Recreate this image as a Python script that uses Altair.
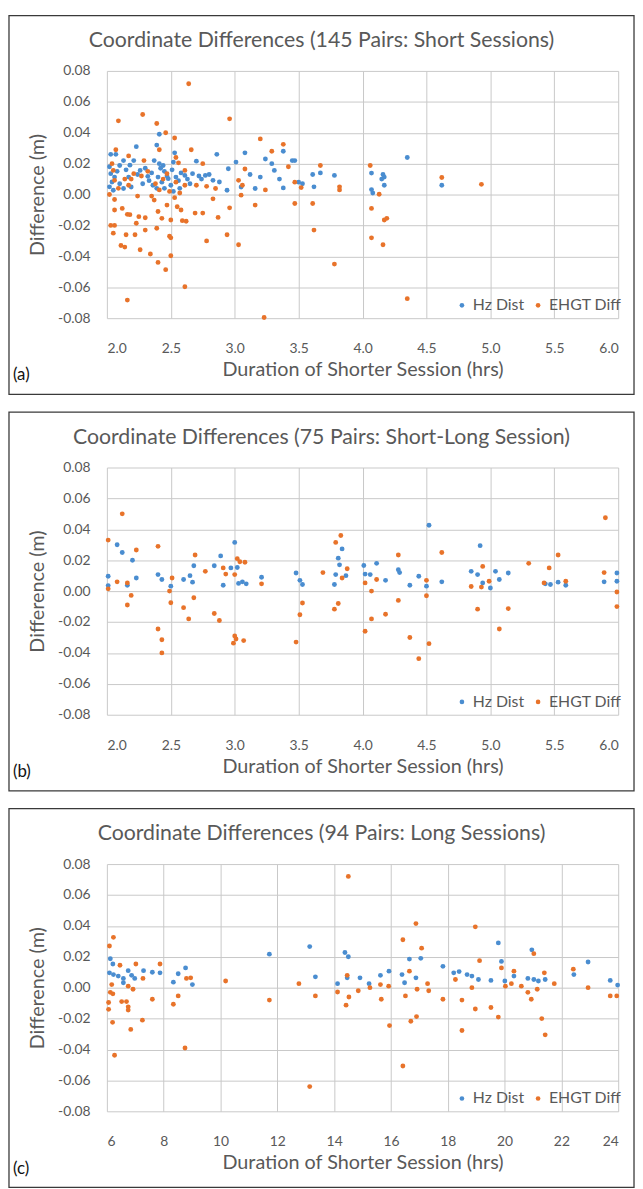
import altair as alt
import pandas as pd

FONT = "Lato"
TEXT_COLOR = "#595959"
SERIES = ["Hz Dist", "EHGT Diff"]
COLORS = ["#4a8dd0", "#e8732a"]

TITLES = [
    "Coordinate Differences (145 Pairs: Short Sessions)",
    "Coordinate Differences (75 Pairs: Short-Long Session)",
    "Coordinate Differences (94 Pairs: Long Sessions)",
]
PANEL_LABELS = ["(a)", "(b)", "(c)"]
X_TITLE = "Duration of Shorter Session (hrs)"
Y_TITLE = "Difference (m)"

X_DOMAINS = [[2.0, 6.0], [2.0, 6.0], [6, 24]]
X_TICKS = [
    [2.0, 2.5, 3.0, 3.5, 4.0, 4.5, 5.0, 5.5, 6.0],
    [2.0, 2.5, 3.0, 3.5, 4.0, 4.5, 5.0, 5.5, 6.0],
    [6, 8, 10, 12, 14, 16, 18, 20, 22, 24],
]
X_FORMATS = [".1f", ".1f", "d"]
Y_TICKS = [-0.08, -0.06, -0.04, -0.02, 0.0, 0.02, 0.04, 0.06, 0.08]

# ---------------- Panel (a): short sessions ----------------
A_HZ = [
    (2.03, 0.026), (2.07, 0.026), (2.23, 0.031), (2.39, 0.032), (2.41, 0.039),
    (2.53, 0.027), (2.86, 0.026), (3.08, 0.027), (3.24, 0.023), (3.38, 0.028),
    (2.13, 0.022), (2.21, 0.022), (2.41, 0.020), (2.52, 0.021), (2.70, 0.0216),
    (3.01, 0.021), (3.29, 0.020), (3.45, 0.022), (2.10, 0.0188), (2.26, 0.0156),
    (2.44, 0.0188), (2.67, 0.0135), (2.77, 0.0124), (2.95, 0.0167), (3.20, 0.0113),
    (3.31, 0.0156), (2.03, 0.0135), (2.06, 0.0113), (2.17, 0.0113), (2.32, 0.0118),
    (2.40, 0.0113), (2.48, 0.0103), (2.54, 0.0113), (2.61, 0.0124), (2.83, 0.0092),
    (2.88, 0.0081), (2.04, 0.0081), (2.10, 0.007), (2.28, 0.007), (2.43, 0.008),
    (2.50, 0.006), (2.94, 0.0028), (3.05, 0.0049), (3.16, 0.0039), (3.38, 0.0043),
    (2.05, 0.0028), (2.13, 0.0039), (2.19, 0.0049), (2.36, 0.006), (2.39, 0.004),
    (2.02, 0.018), (2.08, 0.015), (2.15, 0.016), (2.18, 0.019), (2.24, 0.013),
    (2.30, 0.017), (2.35, 0.014), (2.45, 0.015), (2.47, 0.012), (2.51, 0.016),
    (2.56, 0.009), (2.58, 0.014), (2.63, 0.010), (2.72, 0.012), (2.74, 0.010),
    (2.80, 0.013), (2.02, 0.005), (2.45, 0.004), (2.52, 0.002), (2.57, 0.004),
    (2.65, 0.007), (2.33, 0.009), (2.37, 0.022), (2.42, 0.017), (3.12, 0.013),
    (3.35, 0.010), (3.47, 0.022), (3.61, 0.013), (3.67, 0.014), (3.78, 0.0124),
    (3.62, 0.005), (3.50, 0.008), (3.53, 0.007), (4.07, 0.0139), (4.07, 0.0032),
    (4.08, 0.001), (4.16, 0.013), (4.17, 0.0113), (4.15, 0.010), (4.17, 0.006),
    (4.35, 0.024), (4.62, 0.006),
]
A_EH = [
    (2.64, 0.0717), (2.09, 0.0477), (2.28, 0.0518), (2.39, 0.046), (2.46, 0.040),
    (2.53, 0.0366), (2.96, 0.049), (3.20, 0.036), (3.38, 0.0325), (2.66, 0.029),
    (3.29, 0.028), (2.07, 0.029), (2.17, 0.025), (2.29, 0.022), (2.41, 0.029),
    (2.54, 0.024), (2.56, 0.0205), (2.75, 0.020), (2.04, 0.020), (2.05, 0.0156),
    (2.21, 0.0135), (2.32, 0.015), (2.47, 0.0135), (2.61, 0.0156), (3.08, 0.0165),
    (3.42, 0.018), (2.06, 0.0092), (2.14, 0.010), (2.17, 0.006), (2.38, 0.007),
    (2.41, 0.003), (2.54, 0.008), (2.61, 0.006), (2.70, 0.006), (2.78, 0.0053),
    (2.85, 0.0039), (3.03, 0.0092), (3.06, 0.006), (3.24, 0.003), (2.06, -0.0032),
    (2.24, -0.001), (2.35, -0.001), (2.37, -0.0036), (2.53, -0.002), (2.83, -0.0028),
    (2.96, -0.0086), (3.05, -0.0004), (3.16, -0.0068), (3.47, -0.0058), (2.06, -0.010),
    (2.12, -0.009), (2.16, -0.0128), (2.18, -0.013), (2.25, -0.0143), (2.30, -0.015),
    (2.40, -0.011), (2.43, -0.0154), (2.47, -0.0068), (2.55, -0.0079), (2.58, -0.010),
    (2.50, -0.0165), (2.59, -0.0169), (2.62, -0.0173), (2.69, -0.012), (2.75, -0.012),
    (2.87, -0.0148), (2.03, -0.020), (2.06, -0.020), (2.23, -0.0186), (2.39, -0.0218),
    (2.05, -0.025), (2.15, -0.026), (2.22, -0.026), (2.30, -0.023), (2.49, -0.027),
    (2.50, -0.028), (2.94, -0.026), (2.78, -0.030), (3.03, -0.0325), (2.11, -0.033),
    (2.14, -0.034), (2.26, -0.0357), (2.34, -0.0385), (2.50, -0.0396), (2.40, -0.0439),
    (2.46, -0.0486), (2.61, -0.0597), (2.16, -0.0683), (3.23, -0.0796),
    (2.02, 0.0), (2.09, 0.004), (2.19, 0.010), (2.27, 0.012), (2.44, 0.010),
    (2.49, 0.002), (2.57, 0.001),
    (3.67, 0.0188), (3.47, 0.008), (3.52, 0.0045), (3.82, 0.005), (3.82, 0.003),
    (4.06, 0.0188), (4.13, 0.0002), (3.61, -0.0058), (3.62, -0.023), (3.78, -0.045),
    (4.07, -0.009), (4.19, -0.0154), (4.17, -0.0165), (4.07, -0.028), (4.16, -0.0325),
    (4.35, -0.0674), (4.62, 0.011), (4.93, 0.0066),
]

# ---------------- Panel (b): short-long sessions ----------------
B_HZ = [
    (2.08, 0.030), (2.12, 0.025), (2.20, 0.020), (2.01, 0.0096), (2.01, 0.0036),
    (2.16, 0.0038), (2.23, 0.0085), (2.40, 0.0107), (2.43, 0.0075), (2.50, 0.0032),
    (2.60, 0.0075), (2.65, 0.010), (2.68, 0.0164), (2.67, 0.0058), (2.84, 0.0164),
    (2.89, 0.0228), (2.91, 0.0038), (2.97, 0.015), (3.00, 0.0315), (3.02, 0.0153),
    (3.03, 0.005), (3.06, 0.006), (3.09, 0.0047), (3.21, 0.009), (3.48, 0.0117),
    (3.51, 0.007), (3.53, 0.0043), (3.78, 0.0043), (3.79, 0.0107), (3.81, 0.0213),
    (3.82, 0.017), (3.84, 0.0273), (3.87, 0.010),
    (4.01, 0.0166), (4.02, 0.011), (4.06, 0.0107), (4.11, 0.018), (4.18, 0.007),
    (4.28, 0.0138), (4.29, 0.012), (4.37, 0.0038), (4.44, 0.0096), (4.50, 0.0032),
    (4.52, 0.0426), (4.62, 0.006), (4.85, 0.0128), (4.92, 0.0294), (4.90, 0.0107),
    (4.94, 0.0053), (5.00, 0.002), (5.04, 0.0128), (5.07, 0.0075), (5.14, 0.0117),
    (5.43, 0.0047), (5.47, 0.0043), (5.53, 0.0058), (5.59, 0.0038), (5.89, 0.006),
    (5.99, 0.0117), (5.99, 0.0064),
]
B_EH = [
    (2.12, 0.050), (2.01, 0.033), (2.40, 0.029), (2.23, 0.0266), (2.69, 0.0234),
    (2.08, 0.006), (2.16, 0.0053), (2.01, 0.0015), (2.19, -0.0028), (2.16, -0.009),
    (2.51, 0.0085), (2.49, 0.0), (2.50, -0.0075), (2.60, -0.0107), (2.68, -0.0043),
    (2.64, -0.018), (2.77, 0.0128), (2.91, 0.015), (2.93, 0.011), (2.84, -0.0145),
    (2.88, -0.019), (2.40, -0.0245), (2.43, -0.0315), (2.43, -0.040), (3.00, 0.0107),
    (3.02, 0.021), (3.04, 0.019), (3.08, 0.0187), (3.00, -0.029), (2.99, -0.0337),
    (3.01, -0.031), (3.07, -0.032), (3.21, 0.0047), (3.48, -0.033), (3.53, -0.0077),
    (3.51, -0.0153), (3.69, 0.012), (3.79, 0.0315), (3.83, 0.036), (3.88, 0.0145),
    (3.84, 0.0085), (3.81, -0.008), (3.78, -0.0117),
    (4.02, 0.0053), (4.07, 0.0), (4.11, 0.0075), (4.28, 0.0234), (4.28, -0.006),
    (4.18, -0.015), (4.07, -0.018), (4.02, -0.026), (4.37, -0.030), (4.44, -0.0437),
    (4.50, 0.007), (4.50, -0.003), (4.52, -0.034), (4.62, 0.025), (4.85, 0.003),
    (4.93, 0.0026), (4.94, 0.016), (4.90, -0.0117), (4.99, 0.0064), (5.07, -0.0245),
    (5.14, -0.0113), (5.30, 0.018), (5.42, 0.0053), (5.46, 0.015), (5.53, 0.0234),
    (5.59, 0.0064), (5.89, 0.012), (5.90, 0.0475), (5.99, -0.0006), (5.99, -0.010),
]

# ---------------- Panel (c): long sessions ----------------
C_HZ = [
    (6.12, 0.0187), (6.21, 0.0153), (6.09, 0.0096), (6.23, 0.0085), (6.40, 0.0075),
    (6.58, 0.006), (6.58, 0.0032), (6.75, 0.011), (6.87, 0.008), (6.98, 0.006),
    (7.29, 0.011), (7.60, 0.010), (7.87, 0.0096), (8.34, 0.0036), (8.51, 0.009),
    (8.77, 0.0128), (9.01, 0.002), (11.72, 0.0217), (13.14, 0.0266), (13.34, 0.007),
    (14.38, 0.0228), (14.50, 0.020), (14.12, 0.0026), (14.46, 0.0064), (14.91, 0.0064),
    (15.23, 0.0026), (15.63, 0.008), (15.93, 0.0107), (16.39, 0.0085), (16.65, 0.0185),
    (17.05, 0.019), (16.88, 0.0064), (16.48, 0.0032), (17.83, 0.0138), (18.21, 0.0096),
    (18.40, 0.0104), (18.68, 0.0085), (18.85, 0.0075), (19.08, 0.0053), (19.52, 0.0047),
    (19.78, 0.029), (19.89, 0.017), (20.01, 0.0043), (20.33, 0.0075), (20.82, 0.006),
    (20.96, 0.0245), (21.03, 0.0053), (21.19, 0.0043), (21.43, 0.0053), (22.44, 0.0085),
    (22.94, 0.0166), (23.72, 0.0047), (23.98, 0.0017),
]
C_EH = [
    (6.23, 0.0326), (6.09, 0.027), (6.46, 0.0145), (7.02, 0.0153), (7.87, 0.0153),
    (7.27, 0.006), (6.17, 0.002), (6.12, -0.003), (6.21, -0.004), (6.75, 0.001),
    (6.92, -0.001), (6.06, -0.0096), (6.06, -0.014), (6.52, -0.009), (6.69, -0.009),
    (6.75, -0.0124), (6.75, -0.0145), (6.20, -0.0224), (6.84, -0.027), (7.25, -0.021),
    (7.60, -0.0075), (6.27, -0.0437), (8.34, -0.0107), (8.51, -0.0053), (8.80, 0.006),
    (8.95, 0.0064), (8.75, -0.039), (10.18, 0.0043), (11.72, -0.008), (12.76, 0.0026),
    (13.14, -0.064), (13.34, -0.0053), (14.50, 0.072), (14.46, 0.008), (14.12, -0.0028),
    (14.42, -0.0113), (14.52, -0.006), (14.85, -0.002),
    (16.42, 0.031), (16.88, 0.0415), (17.08, 0.0256), (16.65, 0.0107), (18.97, 0.0394),
    (19.12, 0.0175), (19.89, 0.0128), (20.33, 0.0107), (21.03, 0.022), (21.40, 0.0096),
    (22.42, 0.012), (15.26, 0.0), (15.66, -0.0075), (15.63, 0.002), (15.92, 0.001),
    (16.51, -0.0053), (15.95, -0.0245), (16.42, -0.0507), (16.70, -0.0217), (16.90, -0.0187),
    (16.92, -0.001), (17.29, 0.0026), (17.33, -0.002), (17.83, -0.0075), (18.27, 0.0053),
    (18.50, -0.008), (18.50, -0.0277), (18.85, 0.0), (18.97, -0.0138), (19.52, -0.0128),
    (19.78, -0.019), (20.03, 0.001), (20.24, 0.0026), (20.59, 0.001), (20.82, -0.003),
    (20.94, -0.0075), (21.15, -0.001), (21.31, -0.020), (21.43, -0.0305), (21.75, 0.0026),
    (22.94, 0.0), (23.72, -0.0053), (23.95, -0.0053),
]

PANELS = [(A_HZ, A_EH), (B_HZ, B_EH), (C_HZ, C_EH)]

W, H = 517, 250


def make_panel(i):
    hz, eh = PANELS[i]
    df = pd.DataFrame(
        [{"x": x, "y": y, "s": SERIES[0]} for x, y in hz]
        + [{"x": x, "y": y, "s": SERIES[1]} for x, y in eh]
    )
    y_fmt = "replace(format(datum.value, '.2f'), '\u2212', '-')"
    points = alt.Chart(df).mark_circle(size=24, opacity=1).encode(
        x=alt.X(
            "x:Q",
            scale=alt.Scale(domain=X_DOMAINS[i], nice=False, zero=False),
            axis=alt.Axis(
                values=X_TICKS[i], format=X_FORMATS[i], title=X_TITLE,
                grid=True, gridColor="#c8c8c8", domain=False, ticks=False,
                labelPadding=24, labelFontSize=14, labelColor=TEXT_COLOR, labelFont=FONT,
                titleFontSize=20, titleColor=TEXT_COLOR, titleFont=FONT,
                titleFontWeight="normal", titlePadding=4,
            ),
        ),
        y=alt.Y(
            "y:Q",
            scale=alt.Scale(domain=[-0.08, 0.08], nice=False, zero=False),
            axis=alt.Axis(
                values=Y_TICKS, labelExpr=y_fmt, title=Y_TITLE,
                grid=True, gridColor="#c8c8c8", domain=False, ticks=False,
                labelPadding=17, labelFontSize=14, labelColor=TEXT_COLOR, labelFont=FONT,
                titleFontSize=20, titleColor=TEXT_COLOR, titleFont=FONT,
                titleFontWeight="normal", titleX=-70, titleY=H / 2,
                titleBaseline="middle", titleAngle=270,
            ),
        ),
        color=alt.Color(
            "s:N",
            scale=alt.Scale(domain=SERIES, range=COLORS),
            legend=alt.Legend(
                title=None, orient="none", direction="horizontal",
                legendX=351, legendY=229, symbolType="circle", symbolSize=22,
                labelFontSize=16, labelColor=TEXT_COLOR, labelFont=FONT,
                columnPadding=6, labelOffset=3,
            ),
        ),
        order=alt.Order("s:N", sort="descending"),
    )
    one = pd.DataFrame({"t": [TITLES[i]], "p": [PANEL_LABELS[i]]})
    title = alt.Chart(one).mark_text(
        fontSize=21.5, color=TEXT_COLOR, font=FONT, align="center", baseline="middle"
    ).encode(text="t:N", x=alt.value(217), y=alt.value(-30))
    label = alt.Chart(one).mark_text(
        fontSize=17, color="#111111", font=FONT, align="left", baseline="middle"
    ).encode(text="p:N", x=alt.value(-95), y=alt.value(H + 58))
    box = alt.Chart(one).mark_rect(
        filled=False, stroke="#3a3a3a", strokeWidth=1.3
    ).encode(x=alt.value(-99), x2=alt.value(533), y=alt.value(-56), y2=alt.value(327))
    return alt.layer(points, title, label, box).properties(width=W, height=H)


chart = (
    alt.vconcat(make_panel(0), make_panel(1), make_panel(2), spacing=16)
    .resolve_scale(color="independent")
    .properties(padding={"left": 0, "top": 0, "right": 0, "bottom": 0}, background="white")
    .configure_view(stroke=None)
)

chart.save("out.html", embed_options={"renderer": "svg", "actions": False})
